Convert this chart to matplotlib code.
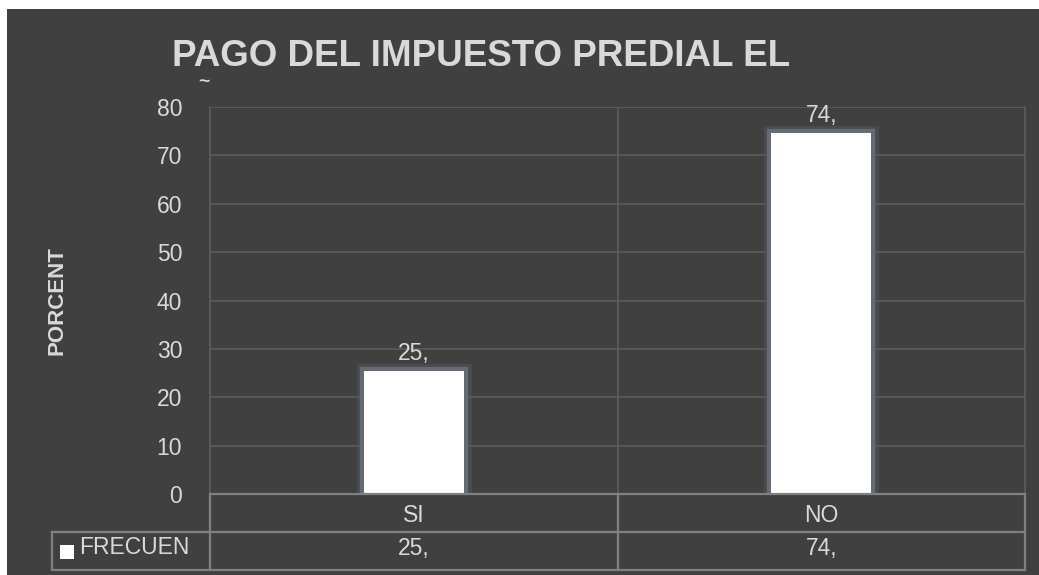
import matplotlib
matplotlib.use('Agg')
import matplotlib.pyplot as plt
import matplotlib.patheffects as pe
from matplotlib.lines import Line2D
from matplotlib.patches import Rectangle

# data
categories = ['SI', 'NO']
values = [25.4, 74.6]
series_name = 'FRECUENCIA'
yticks = [0, 10, 20, 30, 40, 50, 60, 70, 80]

W, H = 1039, 575
BG = '#404040'
TXT = '#d9d9d9'
GRID = '#5c5c5c'
TAB = '#808080'
plt.rcParams['font.family'] = ['Liberation Sans', 'DejaVu Sans']


def fx(x):
    return x / W


def fy(y):
    return 1 - y / H


def label(v):
    # values are shown cut after the decimal comma
    return '%d,' % int(v)


fig = plt.figure(figsize=(W / 100, H / 100), dpi=100)
fig.patch.set_facecolor('white')
fig.add_artist(Rectangle((fx(7), 0), 1 - fx(7), fy(9), transform=fig.transFigure,
                         facecolor=BG, edgecolor='none', zorder=0))

x0, x1, ytop, ybot = 210, 1025, 107, 494
ax = fig.add_axes([fx(x0), fy(ybot), fx(x1) - fx(x0), fy(ytop) - fy(ybot)])
ax.set_facecolor(BG)
ax.set_xlim(-0.5, len(categories) - 0.5)
ax.set_ylim(0, 80)
ax.set_yticks(yticks)
ax.set_xticks([])
ax.tick_params(axis='y', length=0, pad=20, labelsize=16.5, labelcolor=TXT)
for s in ['top', 'bottom']:
    ax.spines[s].set_visible(False)
for s in ['left', 'right']:
    ax.spines[s].set_color(GRID)
    ax.spines[s].set_linewidth(1.2)
ax.yaxis.grid(True, color=GRID, linewidth=1.2)
ax.set_axisbelow(True)
for i in range(1, len(categories)):
    ax.axvline(i - 0.5, color=GRID, linewidth=1.2, zorder=0.5)

bars = ax.bar(range(len(categories)), values, width=0.245, color='white',
              linewidth=0, zorder=3)
for b in bars:
    b.set_path_effects([pe.Stroke(linewidth=11, foreground='#555b63', alpha=0.45),
                        pe.Stroke(linewidth=6, foreground='#656b74'),
                        pe.Normal()])
for i, v in enumerate(values):
    ax.text(i, v + 1.2, label(v), ha='center', va='bottom', fontsize=16.5, color=TXT)

ax.set_ylabel('PORCENT', fontsize=16, fontweight='bold', color=TXT)
ax.yaxis.set_label_coords((67 - x0) / (x1 - x0), 0.5)

fig.text(fx(172), fy(56), 'PAGO DEL IMPUESTO PREDIAL EL', fontsize=26.5,
         fontweight='bold', color=TXT, ha='left', va='center')
fig.text(fx(204), fy(82), '~', fontsize=14, fontweight='bold', color=TXT,
         ha='center', va='center')

# data table under the plot
r0, r1, r2 = 494, 532, 570
xl = 52
cols = [x0 + (x1 - x0) * k / len(categories) for k in range(len(categories) + 1)]


def hline(xa, xb, y):
    fig.add_artist(Line2D([fx(xa), fx(xb)], [fy(y), fy(y)], color=TAB, lw=1.6))


def vline(x, ya, yb):
    fig.add_artist(Line2D([fx(x), fx(x)], [fy(ya), fy(yb)], color=TAB, lw=1.6))


hline(x0, x1, r0)
hline(xl, x1, r1)
hline(xl, x1, r2)
for c in cols:
    vline(c, r0, r2)
vline(xl, r1, r2)

for k, (cat, v) in enumerate(zip(categories, values)):
    cx = (cols[k] + cols[k + 1]) / 2
    fig.text(fx(cx), fy((r0 + r1) / 2 + 2), cat, fontsize=16.5, color=TXT,
             ha='center', va='center')
    fig.text(fx(cx), fy((r1 + r2) / 2 - 2), label(v), fontsize=16.5, color=TXT,
             ha='center', va='center')

# legend key and the part of the series name that fits in its cell
fig.add_artist(Rectangle((fx(60), fy(559)), fx(74) - fx(60), fy(545) - fy(559),
                         transform=fig.transFigure, facecolor='white',
                         edgecolor='none'))
fig.text(fx(79), fy(548), series_name[:7], fontsize=16.5, color=TXT,
         ha='left', va='center')

fig.savefig('out.png', dpi=100, facecolor=fig.get_facecolor())
